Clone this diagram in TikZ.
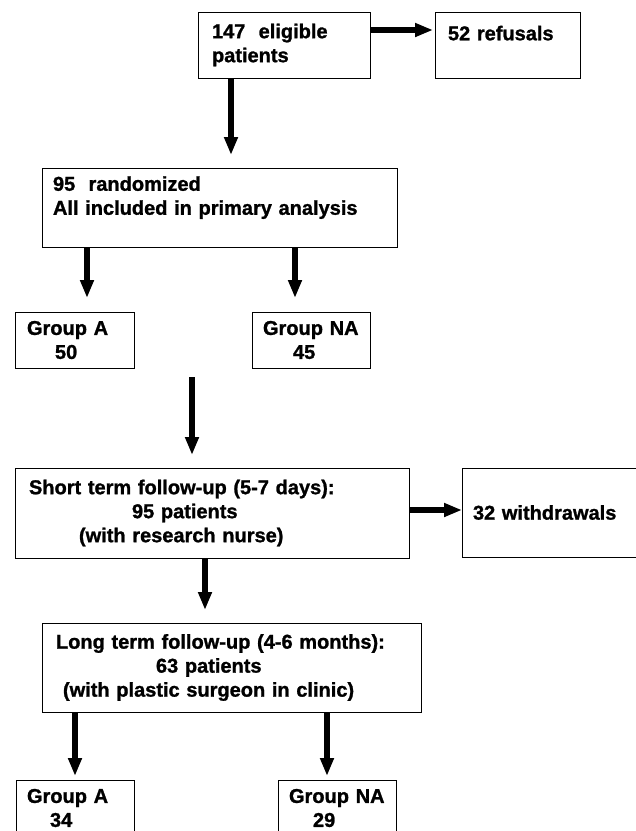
\documentclass[tikz,border=0pt]{standalone}
\usepackage{fontspec}
\setmainfont{Liberation Sans}[BoldFeatures={FakeBold=1.2}]
\usepackage{tikz}
\usetikzlibrary{arrows.meta}
\tikzset{>=latex}
\tikzstyle{box} = [draw, line width = 0.9pt, outer sep = 0, inner ysep = 0, anchor = north west, align = left, font = \fontsize{20}{24}\selectfont\bfseries]
\tikzstyle{arr} = [-{Triangle[length=18pt, width=13pt]}, line width = 6pt]

\begin{document}
\begin{tikzpicture}[x = 1pt, y = -1pt]
\useasboundingbox (0, 0) rectangle (636, 831);
% boxes
\node [box, minimum width = 172pt, minimum height = 66pt, inner xsep = 14pt, text width = 144pt] (elig) at (198, 12) {147\ \ eligible\\patients};
\node [box, minimum width = 145pt, minimum height = 66pt, inner xsep = 13pt, text width = 119pt] (refus) at (435, 12) {52 refusals\\\mbox{}};
\node [box, minimum width = 355pt, minimum height = 79pt, inner xsep = 11pt, text width = 333pt] (rand) at (42, 168) {95\ \ randomized\\All included in primary analysis\\\mbox{}};
\node [box, minimum width = 119pt, minimum height = 56pt, inner xsep = 12pt, text width = 95pt] (grpA) at (15, 312) {Group A\\\hspace*{28pt}50};
\node [box, minimum width = 118pt, minimum height = 56pt, inner xsep = 11pt, text width = 96pt] (grpNA) at (252, 312) {Group NA\\\hspace*{30pt}45};
\node [box, minimum width = 394pt, minimum height = 90pt, inner xsep = 14pt, text width = 366pt] (short) at (15, 468) {Short term follow-up (5-7 days):\\\hspace*{103pt}95 patients\\\hspace*{50pt}(with research nurse)};
\node [box, minimum width = 180pt, minimum height = 89pt, inner xsep = 11pt, text width = 158pt] (withd) at (462, 468) {32 withdrawals};
\node [box, minimum width = 379pt, minimum height = 89pt, inner xsep = 14pt, text width = 351pt] (long) at (42, 623) {Long term follow-up (4-6 months):\\\hspace*{100pt}63 patients\\\hspace*{7pt}(with plastic surgeon in clinic)};
\node [box, minimum width = 118pt, minimum height = 56pt, inner xsep = 11pt, text width = 96pt] (grpAl) at (16, 780) {Group A\\\hspace*{23pt}34};
\node [box, minimum width = 118pt, minimum height = 56pt, inner xsep = 11pt, text width = 96pt] (grpNAl) at (278, 780) {Group NA\\\hspace*{24pt}29};
% where the arrows run
\coordinate (x1) at (231, 0);
\coordinate (x2) at (87, 0);
\coordinate (x3) at (295, 0);
\coordinate (x4) at (205, 0);
\coordinate (x5) at (75, 0);
\coordinate (x6) at (327, 0);
\coordinate (y1) at (0, 30);
\coordinate (y2) at (0, 510);
\coordinate (merge) at (192, 377);
% arrows
\draw [arr, shorten >= 2pt] (elig.east |- y1) to (refus.west |- y1);
\draw [arr, shorten >= 13pt] (elig.south -| x1) to (rand.north -| x1);
\draw [arr, shorten >= 14pt] (rand.south -| x2) to (grpA.north -| x2);
\draw [arr, shorten >= 14pt] (rand.south -| x3) to (grpNA.north -| x3);
\draw [arr, shorten >= 13pt] (merge) to (short.north -| merge);
\draw [arr] (short.east |- y2) to (withd.west |- y2);
\draw [arr, shorten >= 13pt] (short.south -| x4) to (long.north -| x4);
\draw [arr, shorten >= 4pt] (long.south -| x5) to (grpAl.north -| x5);
\draw [arr, shorten >= 4pt] (long.south -| x6) to (grpNAl.north -| x6);
\end{tikzpicture}
\end{document}
